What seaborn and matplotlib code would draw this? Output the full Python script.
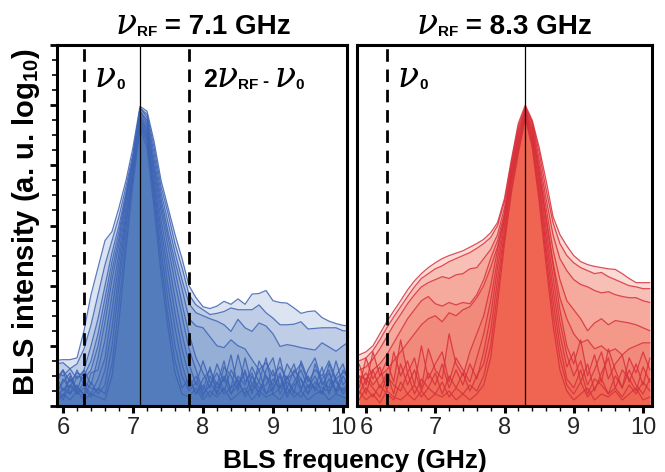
import numpy as np
import pandas as pd
import matplotlib
matplotlib.use("Agg")
import matplotlib.pyplot as plt
import seaborn as sns

# ---------------- data (log10 BLS intensity, arbitrary units) ----------------
FREQ = [5.9, 6.0, 6.1, 6.2, 6.3, 6.4, 6.5, 6.6, 6.7, 6.8, 6.9, 7.0, 7.1, 7.2, 7.3,
        7.4, 7.5, 7.6, 7.7, 7.8, 7.9, 8.0, 8.1, 8.2, 8.3, 8.4, 8.5, 8.6, 8.7, 8.8,
        8.9, 9.0, 9.1, 9.2, 9.3, 9.4, 9.5, 9.6, 9.7, 9.8, 9.9, 10.0, 10.1]

# nu_RF = 7.1 GHz (blue)
BLUE_1 = [0.76,0.77,0.77,0.80,1.25,1.85,2.3,2.75,2.9,3.3,3.75,4.3,4.98,4.9,4.4,3.75,3.3,2.85,2.45,2.0,1.8,1.65,1.62,1.66,1.74,1.69,1.78,1.69,1.86,1.87,1.92,1.75,1.72,1.71,1.63,1.54,1.57,1.58,1.47,1.41,1.37,1.34,1.33]
BLUE_2 = [0.70,0.72,0.62,0.7,0.95,1.35,1.85,2.35,2.75,3.15,3.65,4.2,4.95,4.85,4.3,3.65,3.2,2.7,2.3,1.85,1.68,1.6,1.52,1.54,1.57,1.63,1.6,1.6,1.6,1.68,1.55,1.46,1.35,1.35,1.36,1.4,1.28,1.29,1.3,1.3,1.3,1.25,1.25]
BLUE_3 = [0.55,0.5,0.62,0.45,0.6,1.0,1.45,2.0,2.55,3.0,3.55,4.15,4.95,4.8,4.2,3.55,3.05,2.55,2.1,1.7,1.55,1.5,1.45,1.41,1.35,1.24,1.44,1.3,1.24,1.38,1.33,1.2,0.99,1.02,1.0,0.97,0.95,0.93,1.05,0.98,0.91,1.0,1.08]
BLUE_4 = [0.45,0.6,0.4,0.55,0.5,0.75,1.2,1.8,2.4,2.9,3.5,4.1,4.9,4.75,4.1,3.45,2.9,2.4,1.95,1.45,1.33,1.3,1.15,1.0,0.97,1.1,1.0,0.95,0.77,0.6,0.72,0.5,0.65,0.45,0.55,0.7,0.4,0.6,0.5,0.75,0.45,0.55,0.6]
BLUE_5 = [0.35,0.6,0.2,0.5,0.45,0.6,1.0,1.6,2.25,2.8,3.45,4.1,4.9,4.7,4.0,3.35,2.8,2.25,1.7,1.2,0.8,0.55,0.3,0.7,0.4,0.85,0.3,0.6,0.2,0.75,0.5,0.35,0.8,0.3,0.6,0.45,0.2,0.7,0.35,0.55,0.25,0.6,0.4]
BLUE_6 = [0.2,0.4,0.55,0.25,0.6,0.35,0.8,1.4,2.1,2.7,3.4,4.05,4.85,4.65,3.95,3.25,2.65,2.05,1.5,0.95,0.6,0.25,0.65,0.2,0.5,0.3,0.85,0.4,0.55,0.15,0.6,0.8,0.3,0.5,0.2,0.75,0.45,0.3,0.65,0.2,0.5,0.7,0.3]
BLUE_7 = [0.5,0.25,0.45,0.3,0.2,0.55,0.6,1.1,1.85,2.55,3.3,4.0,4.8,4.6,3.85,3.1,2.45,1.8,1.2,0.7,0.35,0.75,0.4,0.2,0.65,0.5,0.25,0.8,0.35,0.6,0.2,0.45,0.3,0.7,0.5,0.25,0.6,0.8,0.4,0.3,0.75,0.35,0.5]
BLUE_8 = [0.15,0.45,0.3,0.6,0.35,0.2,0.45,0.8,1.6,2.4,3.2,3.95,4.8,4.55,3.75,2.95,2.25,1.55,0.95,0.5,0.2,0.45,0.6,0.35,0.75,0.2,0.5,0.35,0.65,0.4,0.8,0.25,0.55,0.2,0.4,0.6,0.3,0.5,0.2,0.7,0.4,0.25,0.45]
BLUE_9 = [0.3,0.15,0.5,0.2,0.4,0.3,0.25,0.6,1.3,2.2,3.1,3.9,4.75,4.5,3.65,2.8,2.0,1.3,0.7,0.3,0.5,0.2,0.35,0.55,0.25,0.6,0.4,0.2,0.5,0.3,0.35,0.6,0.2,0.45,0.7,0.3,0.5,0.25,0.45,0.6,0.2,0.5,0.3]
BLUE_10 = [0.1,0.3,0.2,0.35,0.15,0.4,0.2,0.35,1.0,2.0,3.0,3.85,4.7,4.45,3.55,2.6,1.75,1.0,0.5,0.25,0.4,0.15,0.5,0.3,0.45,0.2,0.35,0.55,0.25,0.4,0.2,0.3,0.5,0.15,0.35,0.45,0.2,0.4,0.3,0.25,0.45,0.2,0.35]
BLUE_11 = [0.25,0.1,0.35,0.2,0.3,0.15,0.3,0.2,0.7,1.7,2.8,3.8,4.65,4.4,3.45,2.4,1.5,0.75,0.3,0.45,0.2,0.35,0.15,0.4,0.2,0.3,0.45,0.15,0.35,0.25,0.5,0.2,0.3,0.4,0.25,0.15,0.35,0.3,0.2,0.45,0.25,0.3,0.2]
BLUE_12 = [0.05,0.2,0.1,0.25,0.1,0.2,0.15,0.1,0.5,1.4,2.6,3.7,4.6,4.3,3.3,2.2,1.3,0.55,0.2,0.15,0.3,0.1,0.25,0.15,0.3,0.1,0.2,0.3,0.1,0.25,0.15,0.2,0.1,0.3,0.15,0.25,0.1,0.2,0.25,0.1,0.2,0.15,0.1]

# nu_RF = 8.3 GHz (red)
RED_1 = [0.85,0.9,1.0,1.2,1.4,1.58,1.75,1.93,2.08,2.2,2.3,2.38,2.45,2.5,2.54,2.58,2.64,2.7,2.77,2.88,3.05,3.45,4.1,4.7,5.0,4.75,4.3,3.75,3.15,2.85,2.66,2.5,2.4,2.35,2.32,2.3,2.28,2.27,2.2,2.12,2.05,2.05,2.05]
RED_2 = [0.75,0.8,0.92,1.1,1.3,1.48,1.65,1.82,1.98,2.12,2.2,2.28,2.33,2.4,2.45,2.5,2.55,2.62,2.7,2.8,3.0,3.4,4.05,4.65,4.97,4.72,4.22,3.6,3.05,2.7,2.5,2.38,2.3,2.25,2.2,2.22,2.15,2.1,2.05,2.0,1.98,1.95,1.95]
RED_3 = [0.6,0.65,0.78,0.95,1.15,1.35,1.52,1.7,1.85,1.98,2.05,2.1,2.15,2.12,2.18,2.2,2.28,2.3,2.45,2.6,2.85,3.3,4.0,4.6,4.95,4.7,4.1,3.45,2.85,2.45,2.25,2.1,2.02,1.98,1.92,1.88,1.9,1.85,1.82,1.8,1.8,1.75,1.72]
RED_4 = [0.5,0.45,0.6,0.7,0.85,1.05,1.25,1.45,1.6,1.75,1.82,1.7,1.66,1.72,1.68,1.72,1.7,1.85,2.1,2.45,2.75,3.2,3.95,4.55,4.92,4.65,4.0,3.3,2.6,2.1,1.75,1.6,1.45,1.25,1.38,1.45,1.35,1.42,1.4,1.38,1.35,1.3,1.25]
RED_5 = [0.4,0.55,0.35,0.5,0.6,0.75,0.9,1.05,1.2,1.35,1.45,1.5,1.4,1.55,1.5,1.6,1.65,1.8,2.0,2.3,2.65,3.1,3.9,4.5,4.9,4.6,3.9,3.15,2.4,1.8,1.45,1.2,1.05,1.1,0.95,1.0,0.9,0.95,0.85,0.95,1.0,1.05,1.05]
RED_6 = [0.7,0.35,0.9,0.5,0.75,0.4,1.1,0.55,0.8,0.3,0.95,0.6,0.45,1.2,0.7,0.5,0.9,1.2,1.5,2.0,2.6,3.2,3.85,4.45,4.9,4.55,3.9,3.1,2.35,1.6,1.0,0.7,1.1,0.5,0.85,0.4,0.95,0.6,0.3,0.8,0.55,0.9,0.6]
RED_7 = [0.3,0.8,0.45,0.65,0.25,0.9,0.5,0.75,0.35,1.0,0.45,0.7,0.9,0.4,0.8,0.6,0.4,0.8,1.2,1.75,2.45,3.1,3.8,4.4,4.88,4.5,3.8,2.95,2.15,1.4,0.85,0.5,0.75,0.35,0.6,0.9,0.45,0.7,0.85,0.4,0.7,0.35,0.8]
RED_8 = [0.5,0.2,0.6,0.3,0.55,0.2,0.7,0.35,0.6,0.25,0.55,0.35,0.7,0.3,0.6,0.35,0.7,0.45,0.9,1.5,2.3,3.0,3.75,4.35,4.85,4.45,3.7,2.8,1.95,1.2,0.65,0.9,0.4,0.7,0.25,0.55,0.8,0.3,0.6,0.45,0.25,0.65,0.4]
RED_9 = [0.2,0.45,0.3,0.15,0.5,0.35,0.25,0.55,0.2,0.45,0.3,0.55,0.2,0.5,0.3,0.55,0.25,0.5,0.7,1.25,2.1,2.9,3.7,4.3,4.82,4.4,3.6,2.65,1.75,1.0,0.45,0.3,0.6,0.2,0.45,0.35,0.2,0.5,0.3,0.6,0.35,0.2,0.45]
RED_10 = [0.1,0.3,0.15,0.35,0.2,0.1,0.4,0.2,0.35,0.15,0.3,0.2,0.4,0.15,0.3,0.2,0.35,0.25,0.5,1.0,1.9,2.8,3.6,4.25,4.8,4.35,3.5,2.5,1.55,0.8,0.35,0.2,0.4,0.15,0.3,0.45,0.2,0.3,0.15,0.35,0.2,0.4,0.25]
RED_11 = [0.25,0.1,0.2,0.05,0.25,0.15,0.1,0.2,0.1,0.25,0.1,0.2,0.15,0.25,0.1,0.2,0.1,0.2,0.35,0.8,1.7,2.7,3.55,4.2,4.78,4.3,3.4,2.35,1.35,0.6,0.25,0.1,0.2,0.3,0.1,0.2,0.15,0.25,0.1,0.2,0.3,0.1,0.15]

BLUE_CURVES = [BLUE_1, BLUE_2, BLUE_3, BLUE_4, BLUE_5, BLUE_6, BLUE_7, BLUE_8,
               BLUE_9, BLUE_10, BLUE_11, BLUE_12]
RED_CURVES = [RED_1, RED_2, RED_3, RED_4, RED_5, RED_6, RED_7, RED_8, RED_9,
              RED_10, RED_11]

NU_RF = [7.1, 8.3]
NU_0 = 6.3
NU_IDLER = 7.8
X_TICKS = [6, 7, 8, 9, 10]
X_TICK_LABELS = ["6", "7", "8", "9", "10"]

for c in BLUE_CURVES + RED_CURVES:
    assert len(c) == len(FREQ)


def long_frame(curves):
    rows = []
    for k, c in enumerate(curves):
        for f, v in zip(FREQ, c):
            rows.append({"freq": f, "intensity": v, "curve": k})
    return pd.DataFrame(rows)


# ---------------- style ----------------
sns.set_theme(style="ticks")
plt.rcParams["font.family"] = ["Liberation Sans", "DejaVu Sans"]
plt.rcParams["mathtext.fontset"] = "custom"
plt.rcParams["mathtext.rm"] = "Liberation Sans"
plt.rcParams["mathtext.bf"] = "Liberation Sans:bold"
plt.rcParams["mathtext.it"] = "Liberation Serif:italic"

W, H = 665, 472
fig = plt.figure(figsize=(W / 100, H / 100), dpi=100)
ax_l = fig.add_axes([57 / W, 1 - 406 / H, 290 / W, 361 / H])
ax_r = fig.add_axes([357 / W, 1 - 406 / H, 295 / W, 361 / H])

BLUE_FILL = "#4673b9"
BLUE_LINE = "#3d63b4"
RED_FILL = "#ef5c48"
RED_LINE = "#d8303a"


def draw_panel(ax, curves, fill, line, alpha_fill):
    for c in curves:
        ax.fill_between(FREQ, 0, c, color=fill, alpha=alpha_fill, lw=0, zorder=1)
    df = long_frame(curves)
    sns.lineplot(data=df, x="freq", y="intensity", units="curve", estimator=None,
                 color=line, lw=0.9, alpha=0.85, legend=False, sort=False,
                 ax=ax, zorder=2)


draw_panel(ax_l, BLUE_CURVES, BLUE_FILL, BLUE_LINE, 0.19)
draw_panel(ax_r, RED_CURVES, RED_FILL, RED_LINE, 0.22)

for ax, nu in zip([ax_l, ax_r], NU_RF):
    ax.axvline(nu, color="black", lw=0.9, zorder=4)
    ax.axvline(NU_0, color="black", lw=2.0, ls=(0, (4.5, 2.8)), zorder=4)
    ax.set_xlabel("")
    ax.set_ylabel("")
    ax.set_xticks(X_TICKS)
    ax.set_xticklabels(X_TICK_LABELS, fontsize=17)
    ax.set_xticks(np.arange(5.8, 10.21, 0.2), minor=True)
    ax.tick_params(axis="x", which="major", direction="out", length=5, width=2.2,
                   pad=3, color="black")
    ax.tick_params(axis="x", which="minor", direction="out", length=3.5, width=1.0,
                   color="black")
    for s in ax.spines.values():
        s.set_linewidth(2.2)
        s.set_color("black")
        s.set_visible(True)
    ax.set_facecolor("white")

ax_l.axvline(NU_IDLER, color="black", lw=2.0, ls=(0, (4.5, 2.8)), zorder=4)

ax_l.set_yticks(np.arange(0, 6.01, 1.0))
ax_l.set_yticks(np.arange(0, 6.01, 0.25), minor=True)
ax_l.set_yticklabels([])
ax_l.tick_params(axis="y", which="major", direction="out", length=5, width=2.0,
                 color="black")
ax_l.tick_params(axis="y", which="minor", direction="out", length=3.5, width=1.2,
                 color="black")
ax_r.set_yticks([])
ax_r.tick_params(axis="y", which="both", length=0)

# limits last (set_xticks can widen them)
ax_l.set_xlim(5.914, 10.057)
ax_r.set_xlim(5.87, 10.13)
ax_l.set_ylim(0, 6.0)
ax_r.set_ylim(0, 6.0)

# ---------------- text ----------------
renderer = fig.canvas.get_renderer()


def rich(pieces, x_px, base_px, center=False):
    made = []
    for s, kw, dy in pieces:
        t = fig.text(0, 0, s, va="baseline", ha="left", **kw)
        made.append((t, dy, t.get_window_extent(renderer).width))
    total = sum(w for _, _, w in made)
    x = x_px - total / 2 if center else x_px
    for t, dy, w in made:
        t.set_position((x / W, 1 - (base_px + dy) / H))
        x += w


NU_KW = dict(family="DejaVu Serif", style="italic", fontsize=25, color="black")
SUB_KW = dict(fontweight="bold", fontsize=11, color="black")
BIG_KW = dict(fontweight="bold", fontsize=20, color="black")

rich([("ν", NU_KW, 0), ("RF", SUB_KW, 2), (" = 7.1 GHz", BIG_KW, 0)],
     203, 34, center=True)
rich([("ν", NU_KW, 0), ("RF", SUB_KW, 2), (" = 8.3 GHz", BIG_KW, 0)],
     504, 34, center=True)

rich([("ν", NU_KW, 0), ("0", SUB_KW, 2)], 95, 87)
rich([("2", dict(fontweight="bold", fontsize=18, color="black"), 0),
      ("ν", NU_KW, 0), ("RF", SUB_KW, 2),
      (" - ", dict(fontweight="bold", fontsize=13, color="black"), 0),
      ("ν", NU_KW, 0), ("0", SUB_KW, 2)], 203, 87)
rich([("ν", NU_KW, 0), ("0", SUB_KW, 2)], 398, 87)

fig.text(355 / W, 1 - 468 / H, "BLS frequency (GHz)", ha="center", va="baseline",
         fontsize=19, fontweight="bold", color="black")
fig.text(26 / W, 1 - 222 / H, r"BLS intensity (a. u. log$_{\mathbf{10}}$)",
         ha="center", va="center", rotation=90, fontsize=21, fontweight="bold",
         color="black")

fig.savefig("out.png", dpi=100)
